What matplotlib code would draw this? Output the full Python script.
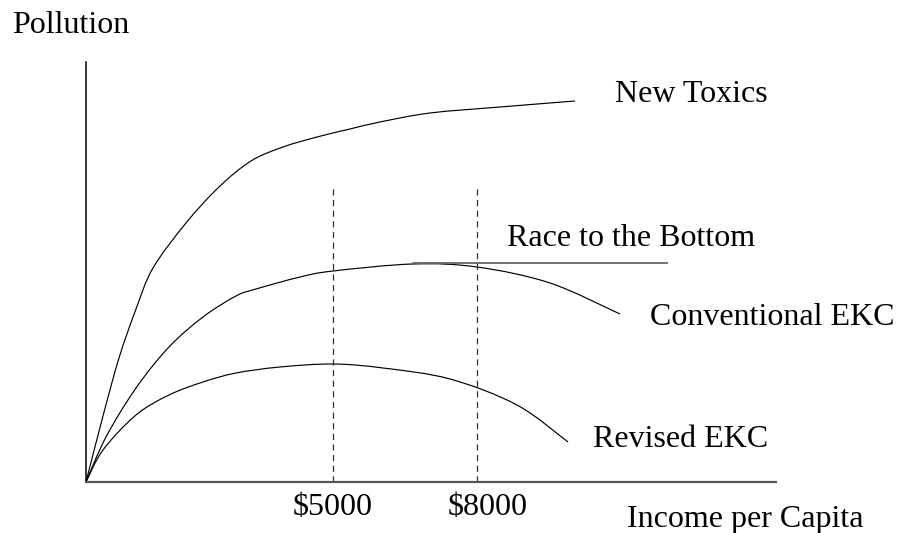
import matplotlib.pyplot as plt
import numpy as np
from matplotlib.path import Path
from matplotlib.patches import PathPatch

# curve points (income, pollution), origin at the axes corner
toxics_x = [0, 17, 33, 50, 67, 100, 133, 165, 197, 231, 264, 294, 344, 414, 489]
toxics_y = [0, 66, 124, 173, 214, 259, 295, 321, 335, 345, 353, 360, 369, 375, 381]

conv_x = [0, 20, 50, 83, 117, 150, 170, 214, 247, 327, 391, 464, 534]
conv_y = [0, 45, 94, 135, 165, 186, 193, 205, 211, 218, 215, 199, 168]

revised_x = [0, 17, 50, 83, 117, 150, 194, 247, 297, 364, 431, 482]
revised_y = [0, 32, 67, 87, 100, 109, 115, 118, 114, 103, 77, 40]

race_x = [327, 581]
race_y = [219, 219]

thresholds = [247, 391]
threshold_labels = ["$5000", "$8000"]
threshold_top = 297


def smooth_path(xs, ys):
    """Bezier path through the points (Catmull-Rom tangents), so the curve
    is drawn smooth instead of as a polyline."""
    p = np.column_stack([xs, ys]).astype(float)
    verts = [p[0]]
    codes = [Path.MOVETO]
    for i in range(len(p) - 1):
        p0 = p[i - 1] if i > 0 else p[i]
        p3 = p[i + 2] if i + 2 < len(p) else p[i + 1]
        c1 = p[i] + (p[i + 1] - p0) / 6
        c2 = p[i + 1] - (p3 - p[i]) / 6
        verts += [c1, c2, p[i + 1]]
        codes += [Path.CURVE4] * 3
    return Path(verts, codes)


plt.rcParams['font.family'] = ['Liberation Serif', 'DejaVu Serif']

fig = plt.figure(figsize=(8.99, 5.33), dpi=100)
ax = fig.add_axes([86 / 899, 51 / 533, 690 / 899, 420 / 533])
ax.set_xlim(0, 690)
ax.set_ylim(0, 420)

for s in ["top", "right"]:
    ax.spines[s].set_visible(False)
ax.spines["left"].set_linewidth(1.1)
ax.spines["left"].set_color("black")
ax.spines["bottom"].set_linewidth(1.6)
ax.spines["bottom"].set_color("#555555")
ax.set_xticks([])
ax.set_yticks([])

for xs, ys in [(toxics_x, toxics_y), (conv_x, conv_y), (revised_x, revised_y)]:
    ax.add_patch(PathPatch(smooth_path(xs, ys), fc="none", ec="black",
                           lw=0.85, clip_on=False))

ax.plot(race_x, race_y, color="#666666", lw=1.3, clip_on=False)

for x in thresholds:
    ax.plot([x, x], [0, threshold_top], color="#333333", lw=0.9,
            ls=(0, (5, 3.5)), clip_on=False)

fs = 23
txt = dict(fontsize=fs, va="baseline", ha="left", clip_on=False)
ax.text(-74, 449, "Pollution", **txt)
ax.text(529, 380, "New Toxics", **txt)
ax.text(421, 236, "Race to the Bottom", **txt)
ax.text(564, 157, "Conventional EKC", **txt)
ax.text(507, 35, "Revised EKC", **txt)
ax.text(thresholds[0] - 40, -33, threshold_labels[0], **txt)
ax.text(thresholds[1] - 29, -33, threshold_labels[1], **txt)
ax.text(541, -45, "Income per Capita", **txt)

fig.savefig("out.png", dpi=100)
